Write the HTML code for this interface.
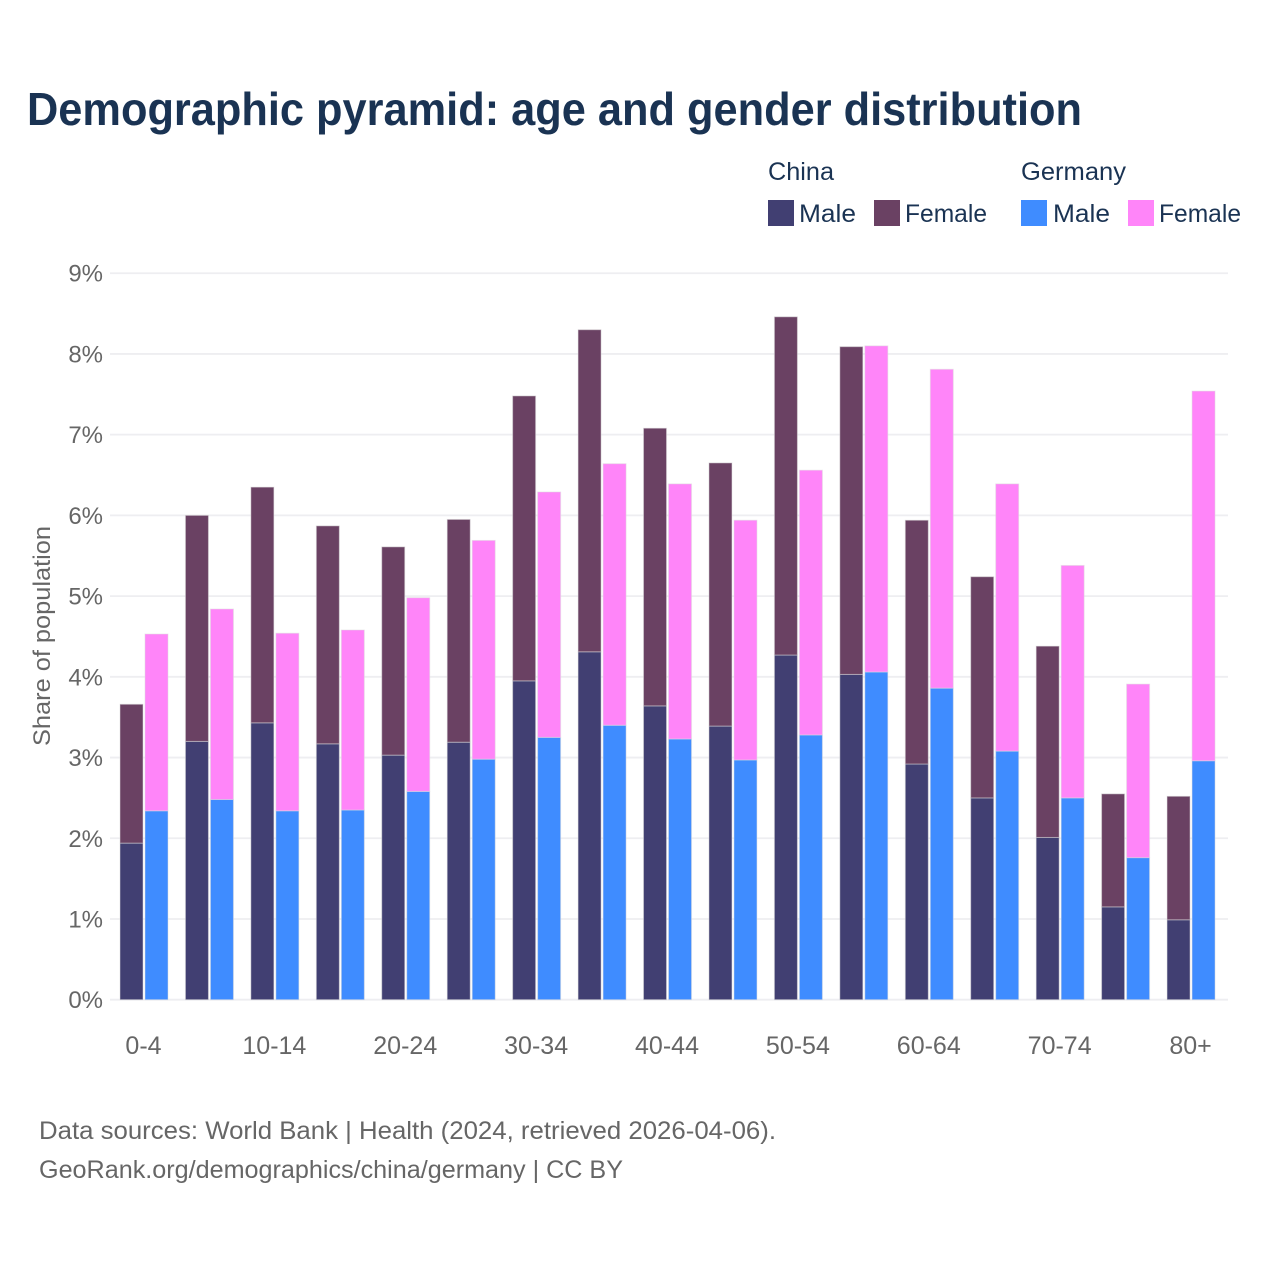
<!DOCTYPE html>
<html lang="en">
<head>
<meta charset="utf-8">
<title>Demographic pyramid</title>
<style>
html,body{margin:0;padding:0;background:#fff;}
svg{display:block;font-family:"Liberation Sans",sans-serif;}
</style>
</head>
<body>
<svg id="chart" width="1280" height="1280" viewBox="0 0 1280 1280" xmlns="http://www.w3.org/2000/svg">
  <rect width="1280" height="1280" fill="#fff"/>
  <text x="27" y="125" font-size="46" font-weight="700" fill="#1a3353" textLength="1055" lengthAdjust="spacingAndGlyphs">Demographic pyramid: age and gender distribution</text>

  <g font-size="25" fill="#1a3353">
    <text x="768" y="180" textLength="66" lengthAdjust="spacingAndGlyphs">China</text>
    <text x="1021" y="180" textLength="105" lengthAdjust="spacingAndGlyphs">Germany</text>
    <rect x="768" y="200" width="26" height="26" fill="#413f72"/>
    <text x="799" y="222" textLength="57" lengthAdjust="spacingAndGlyphs">Male</text>
    <rect x="874" y="200" width="26" height="26" fill="#6a4163"/>
    <text x="905" y="222" textLength="82" lengthAdjust="spacingAndGlyphs">Female</text>
    <rect x="1021" y="200" width="26" height="26" fill="#3f8cff"/>
    <text x="1053" y="222" textLength="57" lengthAdjust="spacingAndGlyphs">Male</text>
    <rect x="1128" y="200" width="26" height="26" fill="#ff85f9"/>
    <text x="1159" y="222" textLength="82" lengthAdjust="spacingAndGlyphs">Female</text>
  </g>

  <g id="grid"></g>
  <g id="yticks"></g>
  <g id="bars"></g>
  <g id="xticks"></g>

  <text transform="translate(50,636) rotate(-90)" text-anchor="middle" font-size="24" fill="#666" textLength="220" lengthAdjust="spacingAndGlyphs">Share of population</text>

  <text x="39" y="1139" font-size="25" fill="#666" textLength="737" lengthAdjust="spacingAndGlyphs">Data sources: World Bank | Health (2024, retrieved 2026-04-06).</text>
  <text x="39" y="1178" font-size="25" fill="#666" textLength="584" lengthAdjust="spacingAndGlyphs">GeoRank.org/demographics/china/germany | CC BY</text>
</svg>
<script>
var categories = ["0-4","5-9","10-14","15-19","20-24","25-29","30-34","35-39","40-44","45-49","50-54","55-59","60-64","65-69","70-74","75-79","80+"];
var tickLabels = ["0-4","10-14","20-24","30-34","40-44","50-54","60-64","70-74","80+"];
var yTicks = [0,1,2,3,4,5,6,7,8,9];
var chinaMale = [1.94,3.20,3.43,3.17,3.03,3.19,3.95,4.31,3.64,3.39,4.27,4.03,2.92,2.50,2.01,1.15,0.99];
var chinaFemale = [1.72,2.80,2.92,2.70,2.58,2.76,3.53,3.99,3.44,3.26,4.19,4.06,3.02,2.74,2.37,1.40,1.53];
var germanyMale = [2.34,2.48,2.34,2.35,2.58,2.98,3.25,3.40,3.23,2.97,3.28,4.06,3.86,3.08,2.50,1.76,2.96];
var germanyFemale = [2.19,2.36,2.20,2.23,2.40,2.71,3.04,3.24,3.16,2.97,3.28,4.04,3.95,3.31,2.88,2.15,4.58];

var NS = "http://www.w3.org/2000/svg";
function yScale(v){ return 999.7 - v * 80.72; }
function xCenter(i){ return 144 + i * 65.44; }
function make(tag, attrs, parent){
  var el = document.createElementNS(NS, tag);
  for (var k in attrs) el.setAttribute(k, attrs[k]);
  parent.appendChild(el);
  return el;
}
var grid = document.getElementById("grid");
var yticks = document.getElementById("yticks");
var barsG = document.getElementById("bars");
var xticks = document.getElementById("xticks");

yTicks.forEach(function(t){
  var line = make("line", {x1:110, x2:1228, y1:yScale(t), y2:yScale(t), stroke:"#eeeef1", "stroke-width":1.8}, grid);
  
  
  var label = make("text", {x:103, y:yScale(t)+8.5, "text-anchor":"end", "font-size":24, fill:"#666"}, yticks);
  label.textContent = t + "%";
  
  
});

var BAR_W = 23, GAP = 2;
function drawBar(x, base, val, fill, name){
  var top = yScale(base + val);
  var r = make("rect", {x:x, y:top, width:BAR_W, height:yScale(base) - top, fill:fill, stroke:"#ddd", "stroke-opacity":0.5, "stroke-width":1}, barsG);
  
  
}
categories.forEach(function(c, i){
  var cx = xCenter(i);
  var lx = cx - GAP/2 - BAR_W;
  var rx = cx + GAP/2;
  drawBar(lx, 0, chinaMale[i], "#413f72", "bar-china-male");
  drawBar(lx, chinaMale[i], chinaFemale[i], "#6a4163", "bar-china-female");
  drawBar(rx, 0, germanyMale[i], "#3f8cff", "bar-germany-male");
  drawBar(rx, germanyMale[i], germanyFemale[i], "#ff85f9", "bar-germany-female");
  if (tickLabels.indexOf(c) >= 0) {
    var tl = make("text", {x:cx-0.5, y:1054, "text-anchor":"middle", "font-size":25, fill:"#666"}, xticks);
    tl.textContent = c;
    
    
  }
});
</script>
</body>
</html>
